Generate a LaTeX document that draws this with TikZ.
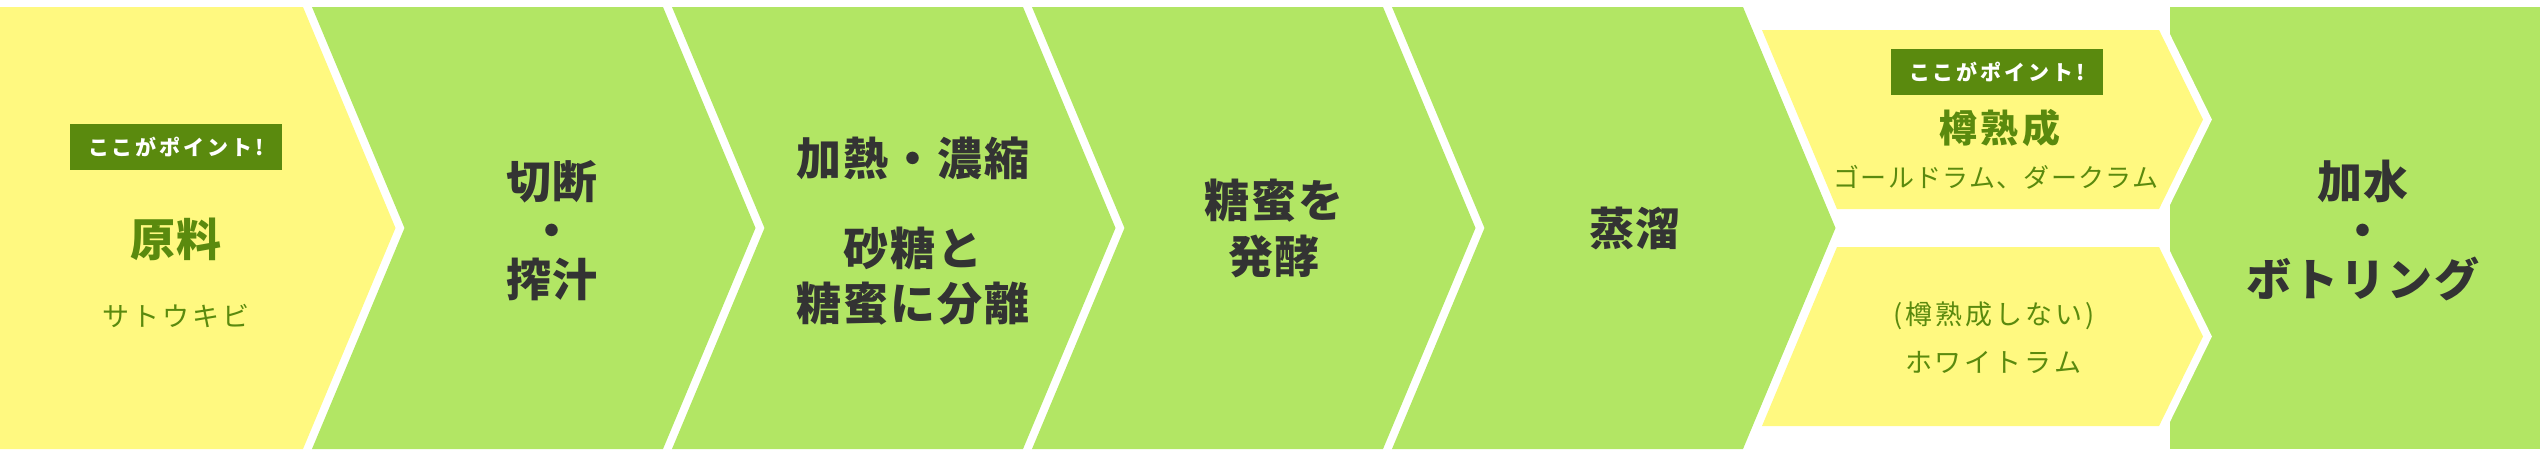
\documentclass[tikz,border=0pt]{standalone}
\usepackage{fontspec}
\setmainfont{Noto Sans CJK JP}
\usepackage{tikz}

\definecolor{kiiro}{HTML}{FFF980}
\definecolor{midori}{HTML}{B2E664}
\definecolor{fukamidori}{HTML}{5A8A0E}
\definecolor{sumi}{HTML}{333333}

\tikzset{
  stepbox/.style={text=sumi, align=center, inner sep=0pt,
    font=\bfseries\fontsize{45}{49}\selectfont\addfontfeature{LetterSpace=4}},
  subtext/.style={text=fukamidori, inner sep=0pt,
    font=\fontsize{27}{30}\selectfont\addfontfeature{LetterSpace=11}},
  pointbadge/.style={fill=fukamidori, text=white, inner sep=0pt,
    minimum width=212pt, minimum height=46pt,
    font=\bfseries\fontsize{21}{21}\selectfont\addfontfeature{LetterSpace=14}},
  halo/.style={preaction={draw=white, line width=16pt}}
}

\begin{document}
\begin{tikzpicture}[x=1pt,y=-1pt]
\useasboundingbox (0,0) rectangle (2540,456);

% 原料 (黄)
\fill[kiiro] (0,7) -- (303,7) -- (395.5,228) -- (303,449) -- (0,449) -- cycle;

% 工程 2--5 (緑)
\foreach \k in {1,...,4} {
    \pgfmathsetmacro{\links}{312+360*(\k-1)}
    \pgfmathsetmacro{\rechts}{303+360*\k}
    \fill[midori] (\links,7) -- (\rechts,7) -- (\rechts+92.5,228) -- (\rechts,449)
        -- (\links,449) -- (\links+92.5,228) -- cycle;
}

% 加水・ボトリング (緑)
\fill[midori] (2170,7) rectangle (2540,449);

% 樽熟成 / 樽熟成しない (黄)
\fill[kiiro, halo] (1762,30) -- (2159,30) -- (2203,119.5) -- (2159,209) -- (1837,209) -- cycle;
\fill[kiiro, halo] (1837,247) -- (2159,247) -- (2203,336.5) -- (2159,426) -- (1762,426) -- cycle;

% Texte
\node[pointbadge] (punkt1) at (176,147) {ここがポイント!};
\node[stepbox, text=fukamidori] (genryo) at (176,239) {原料};
\node[subtext] (satokibi) at (176,316) {サトウキビ};

\node[stepbox] (setsudan) at (552,231) {切断\\・\\搾汁};
\node[stepbox] (kanetsu) at (913,231) {加熱・濃縮\\[41pt]砂糖と\\[6pt]糖蜜に分離};
\node[stepbox] (hakko) at (1274,228) {糖蜜を\\[7pt]発酵};
\node[stepbox] (joryu) at (1635,228) {蒸溜};

\node[pointbadge] (punkt2) at (1997,72) {ここがポイント!};
\node[stepbox, text=fukamidori,
    font=\bfseries\fontsize{38}{40}\selectfont\addfontfeature{LetterSpace=10}] (taru) at (2000,128) {樽熟成};
\node[subtext, font=\fontsize{26}{28}\selectfont\addfontfeature{LetterSpace=5}] (dark) at (1996,177) {ゴールドラム、ダークラム};
\node[subtext] (nashi) at (1994,316) {(樽熟成しない)};
\node[subtext] (white) at (1993,362) {ホワイトラム};

\node[stepbox] (kasui) at (2363,231) {加水\\・\\ボトリング};

\end{tikzpicture}
\end{document}
